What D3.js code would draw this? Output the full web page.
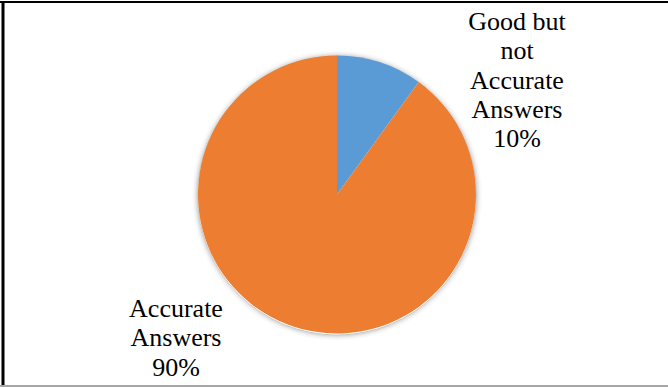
<!DOCTYPE html>
<html>
<head>
<meta charset="utf-8">
<script src="https://cdn.jsdelivr.net/npm/d3@7"></script>
<style>
  html, body { margin: 0; padding: 0; background: #fff; }
  svg { display: block; font-family: "Liberation Serif", "Times New Roman", Tinos, serif; }
  svg text { font-family: "Liberation Serif", "Times New Roman", Tinos, serif !important; font-size: 26px; }
</style>
</head>
<body>
<svg id="chart" width="668" height="387" font-family="Liberation Serif"></svg>
<script>
// Answer quality breakdown
const categories = ["Good but not Accurate Answers", "Accurate Answers"];
const labelLines = [["Good but", "not", "Accurate", "Answers"], ["Accurate", "Answers"]];
const values = [10, 90];
const colors = ["#5B9BD5", "#ED7D31"];

const W = 668, H = 387;
const cx = 337, cy = 194.5, radius = 139;
// label block centres (x) and first-baseline (y) per slice
const labelPos = [{ x: 517, y: 30 }, { x: 176, y: 317 }];
const lineGap = 29.3;

const svg = d3.select("#chart");

// frame lines
svg.append("line").attr("x1", 0).attr("x2", W).attr("y1", 2).attr("y2", 2)
  .attr("stroke", "#000").attr("stroke-width", 2);
svg.append("line").attr("x1", 3).attr("x2", 3).attr("y1", 1).attr("y2", H)
  .attr("stroke", "#000").attr("stroke-width", 3);
svg.append("line").attr("x1", 0).attr("x2", W).attr("y1", 386).attr("y2", 386)
  .attr("stroke", "#a6a6a6").attr("stroke-width", 2);

// soft halo under the pie, built from faint rings
const halo = [0.22, 0.15, 0.1, 0.06, 0.035, 0.018];
svg.append("g").attr("transform", `translate(${cx},${cy + 1})`)
  .selectAll("circle").data(halo).join("circle")
  .attr("r", (d, k) => radius + 0.5 + k)
  .attr("fill", "none")
  .attr("stroke", "#000")
  .attr("stroke-opacity", d => d)
  .attr("stroke-width", 1);

const pie = d3.pie().sort(null).value(d => d)(values);
const arc = d3.arc().innerRadius(0).outerRadius(radius);

const g = svg.append("g").attr("transform", `translate(${cx},${cy})`);
g.selectAll("path").data(pie).join("path")
  .attr("d", arc)
  .attr("fill", (d, i) => colors[i]);

// slice labels, one text element per line
const total = d3.sum(values);
pie.forEach((d, i) => {
  const lines = labelLines[i].concat([Math.round(values[i] / total * 100) + "%"]);
  lines.forEach((ln, k) => {
    svg.append("text")
      .attr("x", labelPos[i].x)
      .attr("y", labelPos[i].y + k * lineGap)
      .attr("text-anchor", "middle")
      .attr("fill", "#000")
      .text(ln);
  });
});
</script>
</body>
</html>
